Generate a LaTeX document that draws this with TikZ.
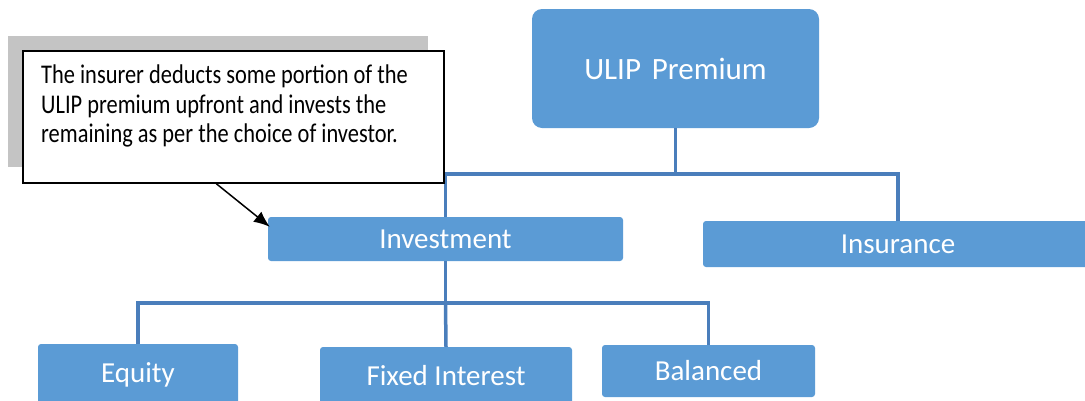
\documentclass[tikz,border=0pt]{standalone}
\usepackage{fontspec}
\setmainfont{Carlito}
\newfontfamily\notefont{Carlito}[FakeStretch=0.83]
\usetikzlibrary{arrows.meta,calc}
\definecolor{boxblue}{HTML}{5B9BD5}
\definecolor{linkblue}{HTML}{4A7EBB}
\definecolor{shadowgray}{HTML}{C4C4C4}
\begin{document}
\begin{tikzpicture}[x=1pt,y=-1pt,
  blockbox/.style={fill=boxblue,inner sep=0pt,rounded corners=3pt,text=white,
    font=\fontsize{29}{32}\selectfont},
  conn/.style={draw=linkblue,line width=3.5pt},
  notebox/.style={draw=black,line width=1.4pt,fill=white,inner sep=0pt,
    minimum width=421pt,minimum height=132pt},
  pointer/.style={draw=black,line width=1.5pt,-{Latex[length=16pt,width=13pt]}}]
\useasboundingbox (0,0) rectangle (1085,400);

% hierarchy boxes
\node[blockbox,rounded corners=10pt,minimum width=287pt,minimum height=119pt,
  font=\fontsize{31}{34}\selectfont] (ulip) at (675.5,68.5) {ULIP\hspace{0.35em}Premium};
\node[blockbox,minimum width=355pt,minimum height=44pt] (inv) at (445.5,239) {Investment};
\node[blockbox,minimum width=390pt,minimum height=46pt] (ins) at (898,244) {Insurance};
\node[blockbox,minimum width=200pt,minimum height=62pt] (eq) at (138,375) {Equity};
\node[blockbox,minimum width=252pt,minimum height=58pt] (fi) at (446,376) {Fixed Interest};
\node[blockbox,minimum width=213pt,minimum height=52pt] (bal) at (708.5,371) {Balanced};

% connectors
\coordinate (j1) at (675.5,174);
\coordinate (j2) at (445.5,303);
\draw[conn] (ulip.south) -- (j1) -| (inv.north);
\draw[conn] (j1) -| (ins.north);
\draw[conn] (inv.south) -- (j2) -| (eq.north);
\draw[conn] (j2) -| (bal.north);
\draw[conn] (j2) -- (fi.north);

% callout with its shadow
\fill[shadowgray] (8,36) rectangle (428,167);
\node[notebox] (note) at (233.5,117) {};
\node[anchor=north west,inner sep=0pt,align=left,
  font=\notefont\fontsize{27}{29.5}\selectfont] (notetext) at (41,65)
  {The insurer deducts some portion of the\\
   ULIP premium upfront and invests the\\
   remaining as per the choice of investor.};
\coordinate (notefoot) at ($(note.south west)+(194,0)$);
\coordinate (invtip) at ($(inv.north west)+(2,10)$);
\draw[pointer] (notefoot) -- (invtip);
\end{tikzpicture}
\end{document}
